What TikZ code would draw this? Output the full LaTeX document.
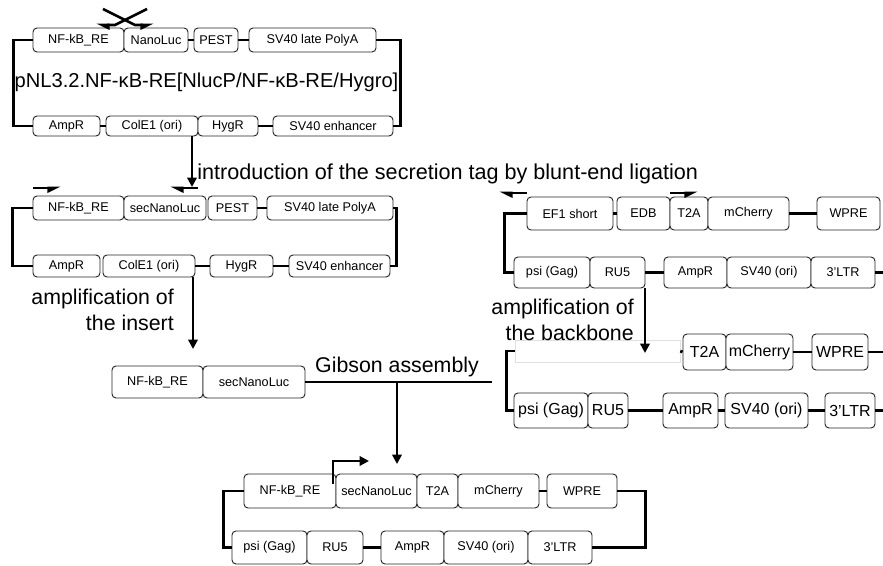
\documentclass[tikz,border=0pt]{standalone}
\usepackage{fontspec}
\setmainfont{Liberation Sans}
\usetikzlibrary{arrows.meta}
\newcommand\mybox[7][]{\node[bx,#1, minimum width={(#4-#3)*0.75pt}, minimum height={(#6-#5)*0.75pt}] (#2) at ({(#3+#4)/2},{(#5+#6)/2}) {#7};}
\begin{document}
\begin{tikzpicture}[x=0.75pt,y=-0.75pt,
 bx/.style={draw=black!85, line width=0.7pt, rounded corners=3pt, fill=white, inner sep=0pt, font=\fontsize{9.5}{11}\selectfont},
 bigbx/.style={font=\fontsize{12}{14}\selectfont},
 bb/.style={line width=2.2pt},
 arr/.style={line width=2pt, -{Triangle[width=7pt,length=7pt]}},
 prim/.style={line width=2pt, -{Triangle[harpoon,swap,width=7pt,length=8pt]}},
 primr/.style={line width=2pt, -{Triangle[harpoon,width=7pt,length=8pt]}},
 big/.style={font=\fontsize{16}{19.5}\selectfont, inner sep=0pt}]
\useasboundingbox (0,0) rectangle (883,566);

% ---------- plasmid 1 ----------
\mybox{nfA}{33}{124}{28}{52}{NF-kB\_RE}
\mybox{nlA}{124}{188}{28}{52}{NanoLuc}
\mybox{peA}{194}{238}{28}{52}{PEST}
\mybox{svA}{249}{376}{28}{52}{SV40 late PolyA}
\mybox{ampA}{33}{100}{116}{136}{AmpR}
\mybox{colA}{106}{198}{116}{136}{ColE1 (ori)}
\mybox{hygA}{198}{258}{116}{136}{HygR}
\mybox{enhA}{273}{393}{116}{136}{SV40 enhancer}
\draw[bb] (nlA.east) -- (peA.west);
\draw[bb] (peA.east) -- (svA.west);
\draw[bb] (ampA.east) -- (colA.west);
\draw[bb] (hygA.east) -- (enhA.west);
\draw[bb] (nfA.west) -- ++(-19,0) |- (ampA.west);
\draw[bb] (svA.east) -- ++(24,0) |- (enhA.east);
\node[big, font=\fontsize{15.1}{18}\selectfont] (title) at (206.5,82) {pNL3.2.NF-κB-RE[NlucP/NF-κB-RE/Hygro]};
\coordinate (pxa1) at (147,9);
\coordinate (pxa2) at (115,25);
\coordinate (pxa3) at (96,25);
\coordinate (pxb1) at (103,9);
\coordinate (pxb2) at (135,25);
\coordinate (pxb3) at (154,25);
\draw[primr] (pxa1) -- (pxa2) -- (pxa3);
\draw[prim] (pxb1) -- (pxb2) -- (pxb3);

% arrow 1
\coordinate (a1s) at (192,136);
\coordinate (a1e) at (192,187);
\draw[arr] (a1s) -- (a1e);
\node[big, font=\fontsize{16.2}{19.5}\selectfont, anchor=west] (intro) at (197,174) {introduction of the secretion tag by blunt-end ligation};

% ---------- plasmid 2 ----------
\mybox{nfB}{33}{124}{196}{220}{NF-kB\_RE}
\mybox{snB}{124}{206}{196}{220}{secNanoLuc}
\mybox{peB}{208}{257}{196}{220}{PEST}
\mybox{svB}{267}{393}{196}{220}{SV40 late PolyA}
\mybox{ampB}{33}{100}{255}{277}{AmpR}
\mybox{colB}{103}{195}{255}{277}{ColE1 (ori)}
\mybox{hygB}{210}{273}{255}{277}{HygR}
\mybox{enhB}{289}{390}{255}{277}{SV40 enhancer}
\draw[bb] (peB.east) -- (svB.west);
\draw[bb] (colB.east) -- (hygB.west);
\draw[bb] (hygB.east) -- (enhB.west);
\draw[bb] (nfB.west) -- ++(-20,0) |- (ampB.west);
\draw[bb] (svB.east) -- ++(3,0) |- (enhB.east);
\coordinate (pB1) at (33,188);
\coordinate (pB2) at (61,188);
\coordinate (pB3) at (198,188);
\coordinate (pB4) at (170,188);
\draw[prim] (pB1) -- (pB2);
\draw[primr] (pB3) -- (pB4);

% arrow 2
\coordinate (a2s) at (193,277);
\coordinate (a2e) at (193,349);
\draw[arr] (a2s) -- (a2e);
\node[big, anchor=east, align=right] (ampins) at (174,310) {amplification of\\the insert};

% ---------- insert ----------
\mybox{nfC}{112}{203}{366}{398}{NF-kB\_RE}
\mybox{snC}{203}{305}{366}{398}{secNanoLuc}
\coordinate (gibR) at (492,382);
\coordinate (gibM) at (397,382);
\coordinate (gibE) at (397,464);
\draw[bb] (snC.east) -- (gibR);
\draw[arr] (gibM) -- (gibE);
\node[big] (gib) at (397,367) {Gibson assembly};

% ---------- right plasmid ----------
\mybox{efE}{527}{613}{197}{230}{EF1 short}
\mybox{edE}{617}{670}{197}{230}{EDB}
\mybox{t2E}{670}{708}{197}{230}{T2A}
\mybox{mcE}{708}{789}{197}{230}{mCherry}
\mybox{wpE}{817}{880}{197}{230}{WPRE}
\mybox{psE}{514}{590}{257}{288}{psi (Gag)}
\mybox{ruE}{590}{645}{257}{288}{RU5}
\mybox{amE}{664}{727}{257}{288}{AmpR}
\mybox{s4E}{727}{811}{257}{288}{SV40 (ori)}
\mybox{ltE}{811}{875}{257}{288}{3'LTR}
\coordinate (rEend) at (883,272.5);
\draw[bb] (efE.east) -- (edE.west);
\draw[bb] (mcE.east) -- (wpE.west);
\draw[bb] (ruE.east) -- (amE.west);
\draw[bb] (ltE.east) -- (rEend);
\draw[bb] (efE.west) -- ++(-22,0) |- (psE.west);
\coordinate (pE1) at (527,193);
\coordinate (pE2) at (499,193);
\coordinate (pE3) at (670,193);
\coordinate (pE4) at (698,193);
\draw[primr] (pE1) -- (pE2);
\draw[prim] (pE3) -- (pE4);

% ---------- backbone ----------
\node[draw=black!12, line width=0.5pt, fill=white, minimum width={165*0.75pt}, minimum height={22*0.75pt}, inner sep=0pt] (ghost) at (597.5,351) {};

% arrow 3
\coordinate (a3s) at (645,288);
\coordinate (a3e) at (645,353);
\draw[arr] (a3s) -- (a3e);
\node[big, anchor=east, align=right] (ampbb) at (634,320) {amplification of\\the backbone};

\mybox[bigbx]{t2F}{683}{726}{334}{370}{T2A}
\mybox[bigbx]{mcF}{726}{793}{334}{370}{mCherry}
\mybox[bigbx]{wpF}{812}{868}{334}{370}{WPRE}
\mybox[bigbx]{psF}{514}{588}{393}{428}{psi (Gag)}
\mybox[bigbx]{ruF}{588}{628}{393}{428}{RU5}
\mybox[bigbx]{amF}{663}{718}{393}{428}{AmpR}
\mybox[bigbx]{s4F}{725}{808}{393}{428}{SV40 (ori)}
\mybox[bigbx]{ltF}{825}{875}{393}{428}{3'LTR}
\coordinate (fTend) at (883,352);
\coordinate (fBend) at (883,410.5);
\draw[bb] (ghost.east) -- (t2F.west);
\draw[bb] (mcF.east) -- (wpF.west);
\draw[bb] (wpF.east) -- (fTend);
\draw[bb] (ruF.east) -- (amF.west);
\draw[bb] (amF.east) -- (s4F.west);
\draw[bb] (s4F.east) -- (ltF.west);
\draw[bb] (ltF.east) -- (fBend);
\draw[bb] (ghost.west) -- ++(-8,0) |- (psF.west);

% ---------- final plasmid ----------
\mybox{nfD}{244}{336}{474}{508}{NF-kB\_RE}
\mybox{snD}{336}{417}{474}{508}{secNanoLuc}
\mybox{t2D}{417}{458}{474}{508}{T2A}
\mybox{mcD}{458}{539}{474}{508}{mCherry}
\mybox{wpD}{547}{617}{474}{508}{WPRE}
\mybox{psD}{232}{307}{531}{564}{psi (Gag)}
\mybox{ruD}{307}{363}{531}{564}{RU5}
\mybox{amD}{381}{444}{531}{564}{AmpR}
\mybox{s4D}{444}{528}{531}{564}{SV40 (ori)}
\mybox{ltD}{528}{592}{531}{564}{3'LTR}
\draw[bb] (mcD.east) -- (wpD.west);
\draw[bb] (ruD.east) -- (amD.west);
\draw[bb] (nfD.west) -- ++(-20,0) |- (psD.west);
\draw[bb] (wpD.east) -- ++(28,0) |- (ltD.east);
\coordinate (prm1) at (333,484);
\coordinate (prm2) at (333,461);
\coordinate (prm3) at (369,461);
\draw[arr] (prm1) -- (prm2) -- (prm3);
\end{tikzpicture}
\end{document}
